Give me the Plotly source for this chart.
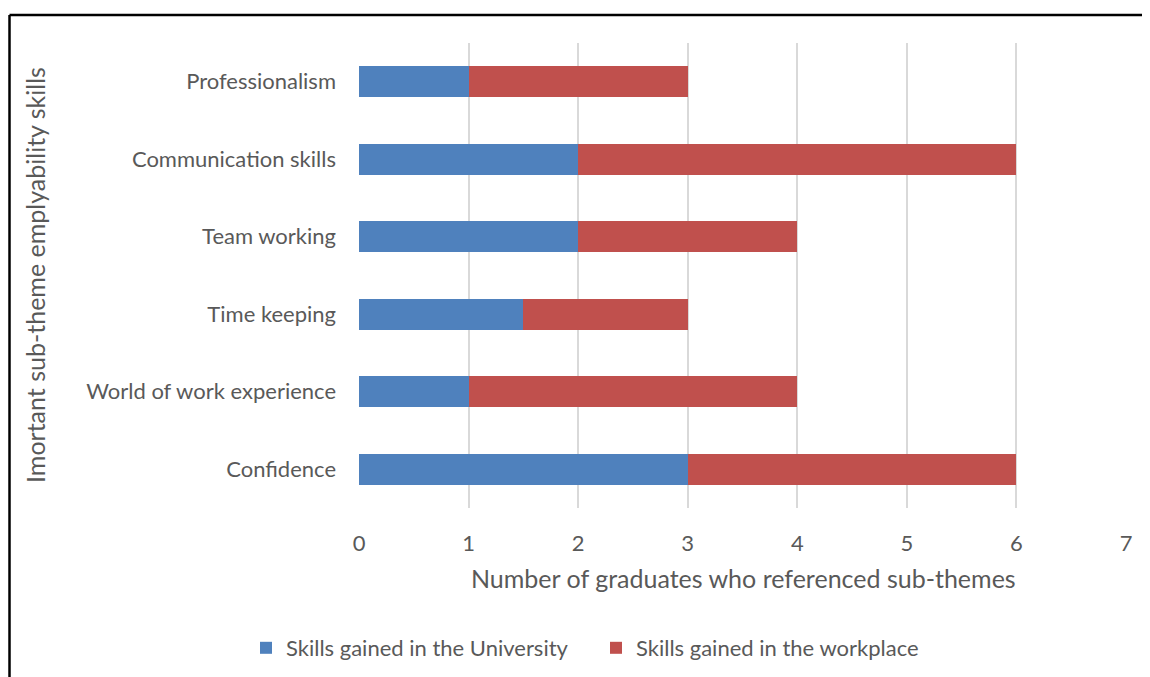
import plotly.graph_objects as go

categories = ["Confidence", "World of work experience", "Time keeping",
              "Team working", "Communication skills", "Professionalism"]
university = [3, 1, 1.5, 2, 2, 1]
workplace = [3, 3, 1.5, 2, 4, 2]
series_names = ["Skills gained in the University", "Skills gained in the workplace"]
x_ticks = [0, 1, 2, 3, 4, 5, 6, 7]
x_title = "Number of graduates who referenced sub-themes"
y_title = "Imortant sub-theme emplyability skills"

OFF = 8  # browser body margin
W, H = 1150 - OFF, 677 - OFF
PL, PR, PT, PB = 359, 1126, 43, 508  # plot area in reference pixels
L, T = PL - OFF, PT - OFF
pw, ph = PR - PL, PB - PT
R, B = W - L - pw, H - T - ph

font_family = "Lato, Open Sans, sans-serif"
grey = "#595959"

def px_x(px):
    return (px - PL) / pw

def px_y(py):
    return (PB - py) / ph

fig = go.Figure()
fig.add_trace(go.Bar(y=categories, x=university, orientation="h", name=series_names[0],
                     marker=dict(color="#4F81BD", line=dict(width=0))))
fig.add_trace(go.Bar(y=categories, x=workplace, orientation="h", name=series_names[1],
                     marker=dict(color="#C0504D", line=dict(width=0))))

fig.update_layout(
    width=W, height=H,
    barmode="stack", bargap=0.6,
    margin=dict(l=L, r=R, t=T, b=B, autoexpand=False),
    paper_bgcolor="white", plot_bgcolor="white",
    font=dict(family=font_family, size=22, color=grey),
    xaxis=dict(range=[0, 7], tickvals=x_ticks, showgrid=True, gridcolor="#D9D9D9", gridwidth=2,
               zeroline=False, showline=False, ticks="", ticklabelstandoff=20,
               tickfont=dict(size=22, color=grey)),
    yaxis=dict(showgrid=False, zeroline=False, showline=False, ticks="",
               ticklabelstandoff=22, tickfont=dict(size=22, color=grey)),
    legend=dict(orientation="h", x=px_x(596), xanchor="center", y=px_y(648), yanchor="middle",
                font=dict(size=22, color=grey), traceorder="normal", itemwidth=30,
                entrywidth=305),
    showlegend=True,
)

fig.add_annotation(text=y_title, xref="paper", yref="paper",
                   x=px_x(35), y=px_y(275), textangle=-90, showarrow=False,
                   font=dict(size=25, color=grey), xanchor="center", yanchor="middle")
fig.add_annotation(text=x_title, xref="paper", yref="paper",
                   x=px_x(743), y=px_y(578), showarrow=False,
                   font=dict(size=25, color=grey), xanchor="center", yanchor="middle")

fig.add_shape(type="line", xref="paper", yref="paper", x0=px_x(9.5), x1=px_x(1200),
              y0=px_y(15), y1=px_y(15), line=dict(color="black", width=2.5))
fig.add_shape(type="line", xref="paper", yref="paper", x0=px_x(9.5), x1=px_x(9.5),
              y0=px_y(15), y1=px_y(720), line=dict(color="black", width=2.5))

fig.write_html("out.html")
